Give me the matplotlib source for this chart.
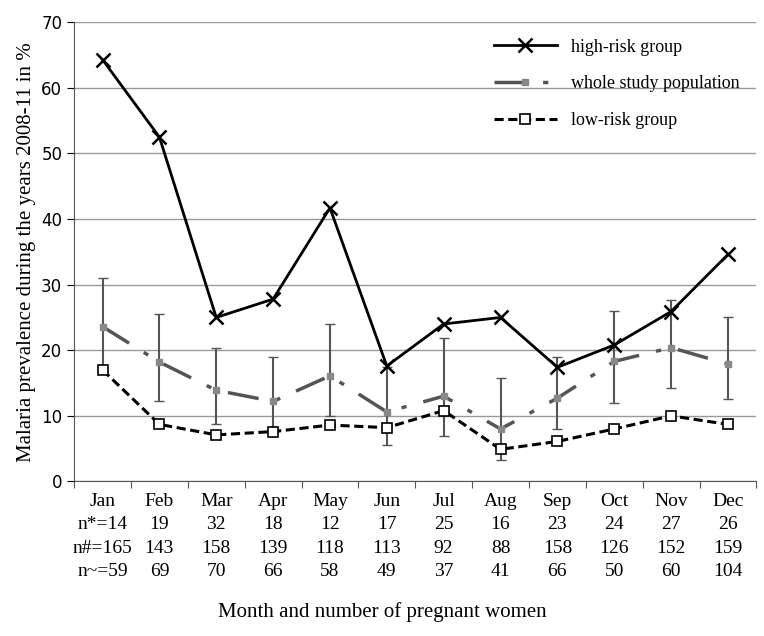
import matplotlib.pyplot as plt
import numpy as np

months = ["Jan", "Feb", "Mar", "Apr", "May", "Jun", "Jul", "Aug", "Sep", "Oct", "Nov", "Dec"]
n_star = ["n*=14", "19", "32", "18", "12", "17", "25", "16", "23", "24", "27", "26"]
n_hash = ["n#=165", "143", "158", "139", "118", "113", "92", "88", "158", "126", "152", "159"]
n_tilde = ["n~=59", "69", "70", "66", "58", "49", "37", "41", "66", "50", "60", "104"]

high = [64.3, 52.5, 25.0, 27.8, 41.7, 17.6, 24.0, 25.0, 17.4, 20.8, 25.9, 34.6]
whole = [23.6, 18.2, 13.9, 12.2, 16.1, 10.6, 13.0, 8.0, 12.7, 18.3, 20.4, 17.9]
whole_lo = [17.0, 12.3, 8.8, 7.0, 10.0, 5.5, 7.0, 3.3, 8.0, 12.0, 14.2, 12.5]
whole_hi = [31.0, 25.5, 20.3, 19.0, 24.0, 17.5, 21.8, 15.8, 19.0, 26.0, 27.6, 25.0]
low = [17.0, 8.7, 7.1, 7.6, 8.6, 8.2, 10.8, 4.9, 6.1, 8.0, 10.0, 8.7]

plt.rcParams['font.family'] = ['Liberation Serif', 'DejaVu Serif']
fig = plt.figure(figsize=(7.64, 6.36), dpi=100)
ax = fig.add_axes([0.097, 0.243, 0.893, 0.722])
x = np.arange(12)

ax.yaxis.grid(True, color='#999999', lw=1)
ax.set_axisbelow(True)

ax.errorbar(x, whole, yerr=[np.array(whole) - whole_lo, np.array(whole_hi) - whole],
            fmt='none', ecolor='#555555', elinewidth=1.5, capsize=3.5, zorder=2)
ax.plot(x, high, color='black', lw=2, marker='x', ms=10, mew=1.8, label='high-risk group', zorder=4)
ax.plot(x, whole, color='#555555', lw=2.5, dashes=(9, 5, 1.5, 5), marker='s', ms=4,
        mfc='#888888', mec='#888888', label='whole study population', zorder=3)
ax.plot(x, low, color='black', lw=2.2, ls=(0, (3, 1.5)), marker='s', ms=6.5,
        mfc='white', mec='black', mew=1.2, label='low-risk group', zorder=5)

ax.set_xlim(-0.5, 11.5)
ax.set_ylim(0, 70)
ax.set_yticks(range(0, 71, 10))
ax.set_xticks(np.arange(-0.5, 12, 1))
ax.set_xticklabels([])
ax.tick_params(axis='x', length=5, color='#555555')
ax.tick_params(axis='y', length=5, labelsize=12)
for lab in ax.get_yticklabels():
    lab.set_family('DejaVu Sans')
for s in ['top', 'right']:
    ax.spines[s].set_visible(False)
for s in ['left', 'bottom']:
    ax.spines[s].set_color('#555555')

for i in range(12):
    for row, vals in enumerate([months, n_star, n_hash, n_tilde]):
        ax.text(i, -3.0 - row * 3.6, vals[i], ha='center', va='center', fontsize=14)

fig.text(0.5, 0.03, "Month and number of pregnant women", ha='center', fontsize=15)
ax.set_ylabel("Malaria prevalence during the years 2008-11 in %", fontsize=15)

ax.legend(loc='upper right', frameon=False, fontsize=13, handlelength=3.5,
          labelspacing=1.1, bbox_to_anchor=(1.0, 1.0))
fig.savefig("out.png", dpi=100)
